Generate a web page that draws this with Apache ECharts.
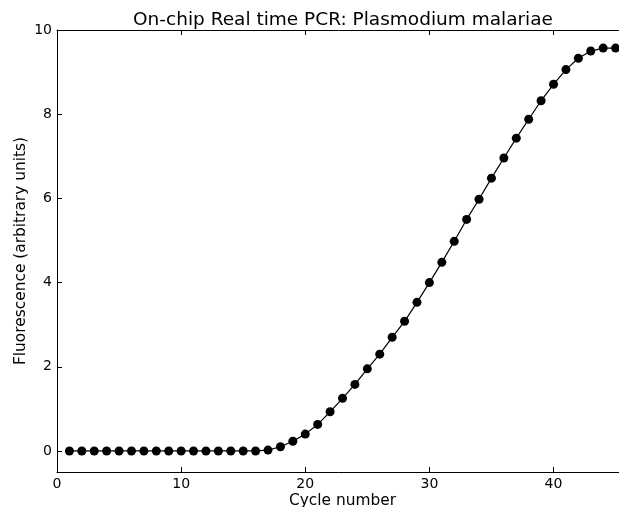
<!DOCTYPE html>
<html>
<head>
<meta charset="utf-8">
<script src="https://cdn.jsdelivr.net/npm/echarts@6/dist/echarts.min.js"></script>
<style>html,body{margin:0;padding:0;background:#fff}#c{width:619px;height:507px}</style>
</head>
<body>
<div id="c"></div>
<script>
const cycles = [1,2,3,4,5,6,7,8,9,10,11,12,13,14,15,16,17,18,19,20,21,22,23,24,25,26,27,28,29,30,31,32,33,34,35,36,37,38,39,40,41,42,43,44,45];
const fluorescence = [0,0,0,0,0,0,0,0,0,0,0,0,0,0,0,0,0.02,0.1,0.23,0.4,0.63,0.93,1.25,1.58,1.95,2.3,2.7,3.08,3.53,4.0,4.48,4.98,5.5,5.98,6.48,6.96,7.43,7.88,8.32,8.71,9.06,9.33,9.5,9.57,9.57];
const xTicks = [0,10,20,30,40];
const yTicks = [0,2,4,6,8,10];

const font = 'DejaVu Sans';
const chart = echarts.init(document.getElementById('c'), null, {renderer:'canvas'});
chart.setOption({
  animation:false,
  backgroundColor:'#fff',
  title:{text:'On-chip Real time PCR: Plasmodium malariae',left:338,top:6,textAlign:'center',
    textStyle:{fontFamily:font,fontSize:18.5,fontWeight:'normal',color:'#000'}},
  grid:{left:57,right:-9,top:30,bottom:35,outerBoundsMode:'none',containLabel:false},
  xAxis:[{
    type:'value',min:0,max:46,position:'bottom',
    name:'Cycle number',nameLocation:'middle',nameGap:21,nameMoveOverlap:false,
    nameTextStyle:{fontFamily:font,fontSize:15.4,color:'#000'},
    axisLine:{onZero:false,lineStyle:{color:'#000',width:1}},
    axisTick:{inside:true,length:5,customValues:xTicks,lineStyle:{color:'#000'}},
    axisLabel:{customValues:xTicks,fontFamily:font,fontSize:14,color:'#000',margin:5},
    splitLine:{show:false}
  },{
    type:'value',min:0,max:46,position:'top',
    axisLine:{onZero:false,lineStyle:{color:'#000',width:1}},
    axisTick:{inside:true,length:5,customValues:xTicks,lineStyle:{color:'#000'}},
    axisLabel:{show:false},splitLine:{show:false}
  }],
  yAxis:{
    type:'value',min:-0.5,max:10,
    name:'Fluorescence (arbitrary units)',nameLocation:'middle',nameGap:29,nameMoveOverlap:false,
    nameTextStyle:{fontFamily:font,fontSize:15.4,color:'#000'},
    axisLine:{onZero:false,lineStyle:{color:'#000',width:1}},
    axisTick:{inside:true,length:5,customValues:yTicks,lineStyle:{color:'#000'}},
    axisLabel:{customValues:yTicks,fontFamily:font,fontSize:14,color:'#000',margin:5},
    splitLine:{show:false}
  },
  series:[{
    type:'line',
    data:cycles.map((c,i)=>[c,fluorescence[i]]),
    symbol:'circle',symbolSize:9,showSymbol:true,
    lineStyle:{color:'#000',width:1.2},
    itemStyle:{color:'#000'}
  }]
});
</script>
</body>
</html>
